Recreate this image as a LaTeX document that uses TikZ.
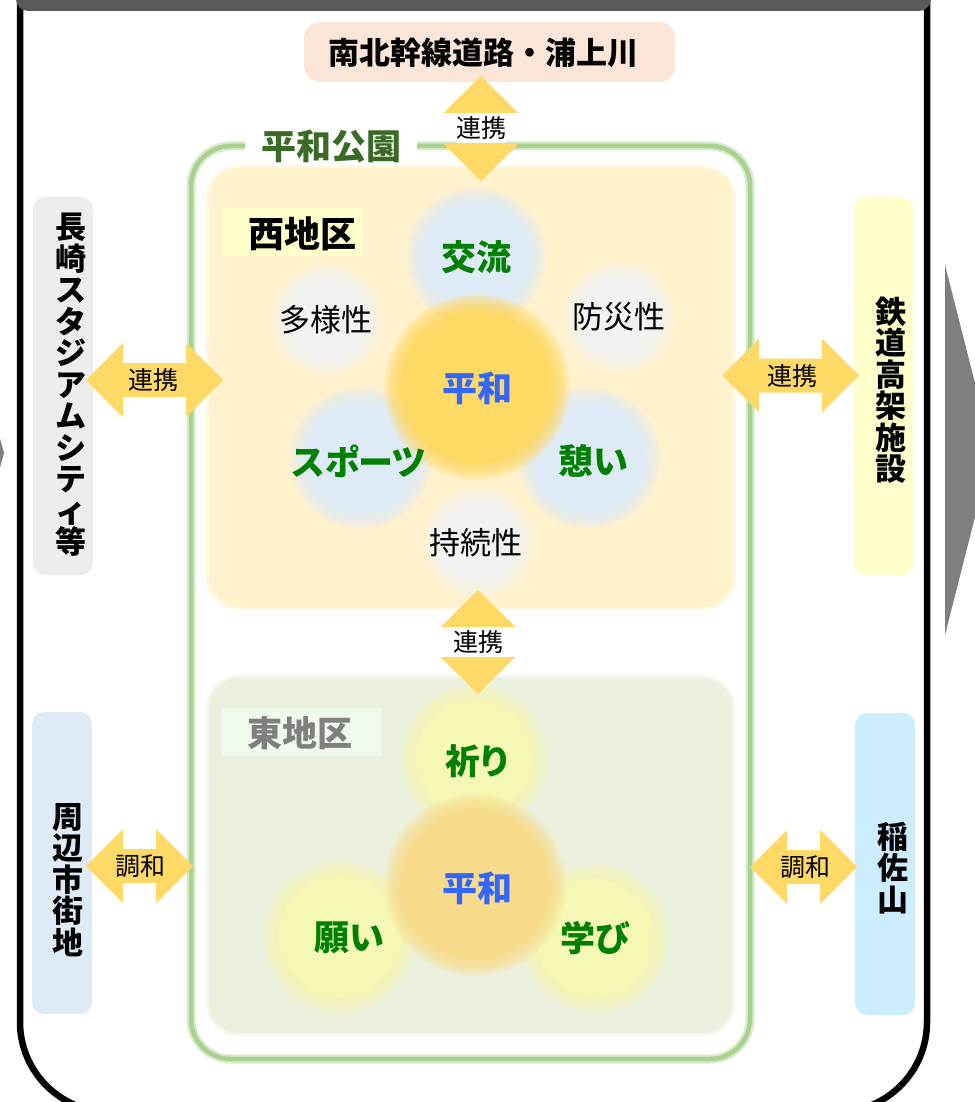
\documentclass[tikz,border=0pt]{standalone}
\usepackage{fontspec}
\newfontfamily\jp{Noto Sans CJK JP}
\newfontfamily\jpp{Noto Sans CJK JP}[RawFeature={+palt}]
\definecolor{arrowc}{HTML}{FFD966}
\definecolor{edgegrey}{HTML}{7F7F7F}
\definecolor{topgrey}{HTML}{595959}
\definecolor{peach}{HTML}{FBE5D6}
\definecolor{sidegrey}{HTML}{EDEDED}
\definecolor{sideblue}{HTML}{DEEBF7}
\definecolor{sideyellow}{HTML}{FFFFCC}
\definecolor{sidecyan}{HTML}{CCECFF}
\definecolor{parkgreen}{HTML}{A9D18E}
\definecolor{parkdark}{HTML}{3A6B24}
\definecolor{westbg}{HTML}{FFF2CC}
\definecolor{eastbg}{HTML}{EBF1DE}
\definecolor{eastlabel}{HTML}{F0FAEC}
\definecolor{petalblue}{HTML}{DEEBF7}
\definecolor{petalgrey}{HTML}{F2F2F2}
\definecolor{coreyellow}{HTML}{FFD966}
\definecolor{eastpetal}{HTML}{F5F7B4}
\definecolor{eastcore}{HTML}{F8DC8C}
\definecolor{wordgreen}{HTML}{008000}
\definecolor{wordblue}{HTML}{3366FF}
\newcommand\softdisk[4]{%
  \foreach \k in {1,...,8} {\fill[#1, opacity=0.2] (#2,#3) circle ({#4pt+2pt*\k});}
  \fill[#1] (#2,#3) circle (#4pt);}
\newcommand\hdarr[3]{%
  \begin{scope}[shift={(#1,#2)}]
  \fill[arrowc] (-#3,0) -- ({-#3+37},-37) -- ({-#3+37},-17) -- ({#3-37},-17) -- ({#3-37},-37) -- (#3,0)
    -- ({#3-37},37) -- ({#3-37},17) -- ({-#3+37},17) -- ({-#3+37},37) -- cycle;
  \end{scope}}
\newcommand\vdarr[3]{%
  \begin{scope}[shift={(#1,#2)}]
  \fill[arrowc] (0,-#3) -- (-37.5,{-#3+37}) -- (-17,{-#3+37}) -- (-17,{#3-37}) -- (-37.5,{#3-37}) -- (0,#3)
    -- (37.5,{#3-37}) -- (17,{#3-37}) -- (17,{-#3+37}) -- (37.5,{-#3+37}) -- cycle;
  \end{scope}}
\tikzset{
  sidebox/.style={rounded corners=12pt, minimum width=60pt},
  sidetext/.style={font=\jp\bfseries\fontsize{31}{31.5}\selectfont, align=center},
  linklabel/.style={font=\jp\fontsize{25}{25}\selectfont},
  whitelabel/.style={linklabel, fill=white, minimum width=50pt, minimum height=30pt},
  keyword/.style={font=\jpp\bfseries\fontsize{35}{35}\selectfont, text=wordgreen},
  peaceword/.style={font=\jpp\bfseries\fontsize{35}{35}\selectfont, text=wordblue},
  plainword/.style={font=\jp\fontsize{31}{31}\selectfont},
}
\begin{document}
\begin{tikzpicture}[x=1pt,y=-1pt, every node/.style={font=\jp, inner sep=0pt}]
\useasboundingbox (0,0) rectangle (974,1102);
% partial grey arrows at the edges
\fill[edgegrey] (945,265) -- (992,450) -- (945,635) -- cycle;
\fill[edgegrey] (-12,395) -- (4,453) -- (-12,511) -- cycle;
% outer frame
\draw[line width=6.5pt, rounded corners=90pt] (20,-150) rectangle (927,1112);
\fill[topgrey, rounded corners=12pt] (16,-30) rectangle (931,11);
% top box
\node[fill=peach, rounded corners=16pt, minimum width=371pt, minimum height=60pt] (road) at (489.5,52) {};
\node[font=\jp\bfseries\fontsize{31}{31}\selectfont] (roadtext) at (483,53) {南北幹線道路・浦上川};
% side boxes
\node[sidebox, fill=sidegrey, minimum height=378pt] (stadium) at (63,386) {};
\node[sidetext] (stadiumtext) at (71,385) {長\\崎\\ス\\タ\\ジ\\ア\\ム\\シ\\テ\\ィ\\等};
\node[sidebox, fill=sideblue, minimum height=302pt] (town) at (62,863) {};
\node[sidetext] (towntext) at (68,880) {周\\辺\\市\\街\\地};
\node[sidebox, fill=sideyellow, minimum height=378pt] (rail) at (883.5,386) {};
\node[sidetext] (railtext) at (891,390) {鉄\\道\\高\\架\\施\\設};
\node[sidebox, fill=sidecyan, minimum height=302pt] (inasa) at (885,864) {};
\node[sidetext] (inasatext) at (893,868) {稲\\佐\\山};
% park frame
\draw[line width=9pt, parkgreen!45!white, rounded corners=40pt] (191,146) rectangle (750,1059);
\draw[line width=4.5pt, parkgreen, rounded corners=40pt] (191,146) rectangle (750,1059);
\node[fill=white, minimum width=172pt, minimum height=30pt] (parkbox) at (331,146) {};
\node[font=\jp\bfseries\fontsize{35}{35}\selectfont, text=parkdark] (parktext) at (331,146) {平和公園};
% west district
\draw[line width=6pt, westbg!55!white, rounded corners=30pt] (209,168) rectangle (733,607);
\fill[westbg, rounded corners=30pt] (209,168) rectangle (733,607);
\node[fill=sideyellow, minimum width=139pt, minimum height=48pt] (westbox) at (292.5,232) {};
\node[font=\jp\bfseries\fontsize{36}{36}\selectfont] (westtext) at (302,234) {西地区};
\softdisk{petalblue}{476}{257}{54}
\softdisk{petalgrey}{327}{320}{40}
\softdisk{petalgrey}{619}{317}{40}
\softdisk{petalblue}{361}{458}{55}
\softdisk{petalblue}{589}{458}{55}
\softdisk{petalgrey}{479}{542}{40}
\softdisk{coreyellow}{477}{387}{77}
\node[keyword] (w1) at (476,257) {交流};
\node[plainword] (w2) at (326,320) {多様性};
\node[plainword] (w3) at (619,317) {防災性};
\node[peaceword] (w0) at (477,388) {平和};
\node[keyword] (w4) at (359,461) {スポーツ};
\node[keyword] (w5) at (593,461) {憩い};
\node[plainword] (w6) at (476,543) {持続性};
% east district
\draw[line width=6pt, eastbg!55!white, rounded corners=30pt] (209,678) rectangle (732,1033);
\fill[eastbg, rounded corners=30pt] (209,678) rectangle (732,1033);
\node[fill=eastlabel, minimum width=161pt, minimum height=48pt] (eastbox) at (301.5,732) {};
\node[font=\jp\bfseries\fontsize{35}{35}\selectfont, text=edgegrey] (easttext) at (300,733) {東地区};
\softdisk{eastpetal}{474}{758}{58}
\softdisk{eastpetal}{340}{937}{61}
\softdisk{eastpetal}{595}{938}{59}
\softdisk{eastcore}{475}{885}{75}
\node[keyword] (e1) at (477,761) {祈り};
\node[peaceword] (e0) at (477,888) {平和};
\node[keyword] (e2) at (349,938) {願い};
\node[keyword] (e3) at (595,938) {学び};
% link arrows
\vdarr{481}{128.5}{52.5}
\node[whitelabel] (l1) at (481,128) {連携};
\vdarr{478}{642}{52}
\node[whitelabel] (l2) at (478,642) {連携};
\hdarr{154.5}{380}{68.5}
\node[linklabel] (l3) at (153,380) {連携};
\hdarr{790.5}{375.5}{68.5}
\node[linklabel] (l4) at (792,376) {連携};
\hdarr{139.5}{866}{53.5}
\node[linklabel] (l5) at (140,866) {調和};
\hdarr{803.5}{867}{53.5}
\node[linklabel] (l6) at (805,867) {調和};
\end{tikzpicture}
\end{document}
